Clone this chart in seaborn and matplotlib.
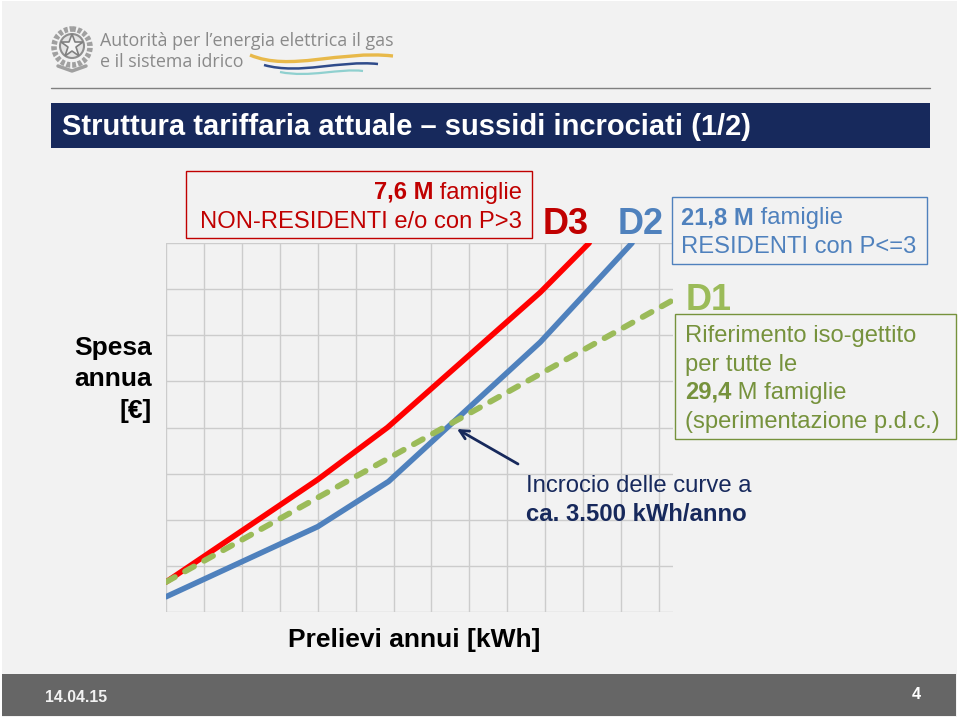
import matplotlib
matplotlib.use("Agg")
import matplotlib.pyplot as plt
import seaborn as sns
import pandas as pd
from matplotlib.patches import Rectangle, Circle, PathPatch
from matplotlib.path import Path

# values in grid units
d3_x = [0, 4, 5.84, 9.87, 11.16]
d3_y = [0.65, 2.87, 4.0, 6.93, 8.0]
d2_x = [0, 4, 5.87, 9.87, 12.29]
d2_y = [0.33, 1.85, 2.83, 5.85, 8.0]
d1_x = [0, 13.32]
d1_y = [0.65, 6.74]
x_grid_ticks = list(range(14))
y_grid_ticks = list(range(9))

BG = "#f2f2f2"
NAVY = "#17295c"
RED = "#c00000"
BLUE = "#4f81bd"
GREEN = "#9bbb59"
OLIVE = "#76923c"
W, H = 960, 718

sns.set_theme(style="white")
plt.rcParams["font.family"] = ["Liberation Sans", "DejaVu Sans"]

fig = plt.figure(figsize=(9.6, 7.18), dpi=100, facecolor="white")

# overlay in pixel coordinates for the slide furniture
bg = fig.add_axes([0, 0, 1, 1])
bg.set_xlim(0, W)
bg.set_ylim(H, 0)
bg.axis("off")
bg.add_patch(Rectangle((2, 1), 955, 716, fc=BG, ec="none"))

# chart
ax = fig.add_axes([166 / W, 1 - 612 / H, (673 - 166) / W, (612 - 243) / H])
ax.patch.set_alpha(0)
d3 = pd.DataFrame({"x": d3_x, "y": d3_y})
d2 = pd.DataFrame({"x": d2_x, "y": d2_y})
d1 = pd.DataFrame({"x": d1_x, "y": d1_y})
sns.lineplot(data=d3, x="x", y="y", color="#ff0000", lw=4, ax=ax, zorder=3)
sns.lineplot(data=d2, x="x", y="y", color=BLUE, lw=4, ax=ax, zorder=4)
sns.lineplot(data=d1, x="x", y="y", color=GREEN, lw=4.2, ax=ax, zorder=5,
             linestyle=(0, (1.75, 1.99)), dash_capstyle="round")
ax.set_xlim(0, 13.37)
ax.set_ylim(0, 8)
ax.set_xticks(x_grid_ticks)
ax.set_yticks(y_grid_ticks)
ax.set_xticklabels([])
ax.set_yticklabels([])
ax.set_xlabel("")
ax.set_ylabel("")
ax.tick_params(length=0)
ax.grid(True, color="#cccccc", lw=1.0)
ax.set_axisbelow(True)
sns.despine(ax=ax, left=True, bottom=True, top=True, right=True)

# top layer for boxes and labels
top = fig.add_axes([0, 0, 1, 1], zorder=10)
top.set_xlim(0, W)
top.set_ylim(H, 0)
top.axis("off")
top.patch.set_alpha(0)


def rich(x, y, parts, size, color, ha="left"):
    # parts: (text, bold) drawn one after the other on one baseline
    rend = fig.canvas.get_renderer()
    items = []
    for s, bold in parts:
        t = top.text(x, y, s, fontsize=size, color=color, va="baseline",
                     fontweight="bold" if bold else "normal")
        items.append(t)
    widths = [t.get_window_extent(rend).width for t in items]
    pos = x - sum(widths) if ha == "right" else x
    for t, w in zip(items, widths):
        t.set_x(pos)
        pos += w


# logo
top.add_patch(Circle((72, 47), 18, fc="none", ec="#a0a0a0", lw=4, ls=(0, (0.7, 0.35))))
top.add_patch(Circle((72, 46), 12, fc="#e4e4e4", ec="#8f8f8f", lw=1.5))
top.plot([72], [46], marker="*", ms=17, mfc="#f4f4f4", mec="#808080", mew=1.2)
top.plot([58, 72, 86], [66, 71, 66], color="#a0a0a0", lw=2.5)
top.text(100, 46, "Autorità per l’energia elettrica il gas", fontsize=12.85,
         color="#8a8a8a", family="Open Sans", va="baseline")
top.text(100, 67, "e il sistema idrico", fontsize=12.85, color="#8a8a8a",
         family="Open Sans", va="baseline")
for verts, col, lw in [
    ([(250, 55), (290, 72), (340, 50), (393, 56)], "#e8b94a", 2.4),
    ([(264, 65), (300, 75), (340, 60), (378, 64)], "#2f4b8a", 1.8),
    ([(280, 72), (310, 78), (340, 68), (363, 71)], "#8fd0cf", 1.6),
]:
    top.add_patch(PathPatch(Path(verts, [Path.MOVETO, Path.CURVE4, Path.CURVE4, Path.CURVE4]),
                            fc="none", ec=col, lw=lw))
top.plot([51, 930], [88, 88], color="#808080", lw=1)

# title bar
top.add_patch(Rectangle((51, 103), 879, 45, fc=NAVY, ec="none"))
top.text(62, 135, "Struttura tariffaria attuale – sussidi incrociati (1/2)", color="white",
         fontsize=21, fontweight="bold", va="baseline")

# y label
for yy, s in [(355, "Spesa"), (386, "annua"), (418, "[€]")]:
    top.text(152, yy, s, fontsize=19, fontweight="bold", color="black",
             ha="right", va="baseline")

# D3 box
top.add_patch(Rectangle((186, 171), 346, 67, fc="none", ec=RED, lw=1))
rich(522, 199, [("7,6 M", True), (" famiglie", False)], 17.1, RED, ha="right")
top.text(522, 228, "NON-RESIDENTI e/o con P>3", fontsize=17.1, color=RED, ha="right", va="baseline")
top.text(566, 234, "D3", fontsize=26, fontweight="bold", color=RED, ha="center", va="baseline")
top.text(641, 234, "D2", fontsize=26, fontweight="bold", color=BLUE, ha="center", va="baseline")

# D2 box
top.add_patch(Rectangle((672, 197), 255, 67, fc=BG, ec=BLUE, lw=1))
rich(681, 224, [("21,8 M", True), (" famiglie", False)], 17.1, BLUE)
top.text(681, 253, "RESIDENTI con P<=3", fontsize=17.1, color=BLUE, va="baseline")

# D1 box
top.text(686, 310, "D1", fontsize=26, fontweight="bold", color=GREEN, va="baseline")
top.add_patch(Rectangle((675, 314), 281, 125, fc=BG, ec=OLIVE, lw=1))
top.text(685, 342, "Riferimento iso-gettito", fontsize=17.1, color=OLIVE, va="baseline")
top.text(685, 371, "per tutte le", fontsize=17.1, color=OLIVE, va="baseline")
rich(685, 399, [("29,4", True), (" M famiglie", False)], 17.1, OLIVE)
top.text(685, 428, "(sperimentazione p.d.c.)", fontsize=17.1, color=OLIVE, va="baseline")

# crossing note
top.annotate("", xy=(457, 429), xytext=(518, 464),
             arrowprops=dict(arrowstyle="->", color=NAVY, lw=2, mutation_scale=16,
                             shrinkA=0, shrinkB=0))
top.text(526, 492, "Incrocio delle curve a", fontsize=17.2, color=NAVY, va="baseline")
top.text(526, 521, "ca. 3.500 kWh/anno", fontsize=17.2, fontweight="bold", color=NAVY, va="baseline")

# x label
top.text(288, 647, "Prelievi annui [kWh]", fontsize=19, fontweight="bold", color="black", va="baseline")

# footer
top.add_patch(Rectangle((2, 674), 954, 42, fc="#666666", ec="none"))
top.text(45, 702, "14.04.15", fontsize=11.4, fontweight="bold", color="#f2f2f2", va="baseline")
top.text(916, 699, "4", fontsize=11.7, fontweight="bold", color="white", ha="center", va="baseline")

fig.savefig("out.png", dpi=100, facecolor=fig.get_facecolor())
plt.close(fig)
